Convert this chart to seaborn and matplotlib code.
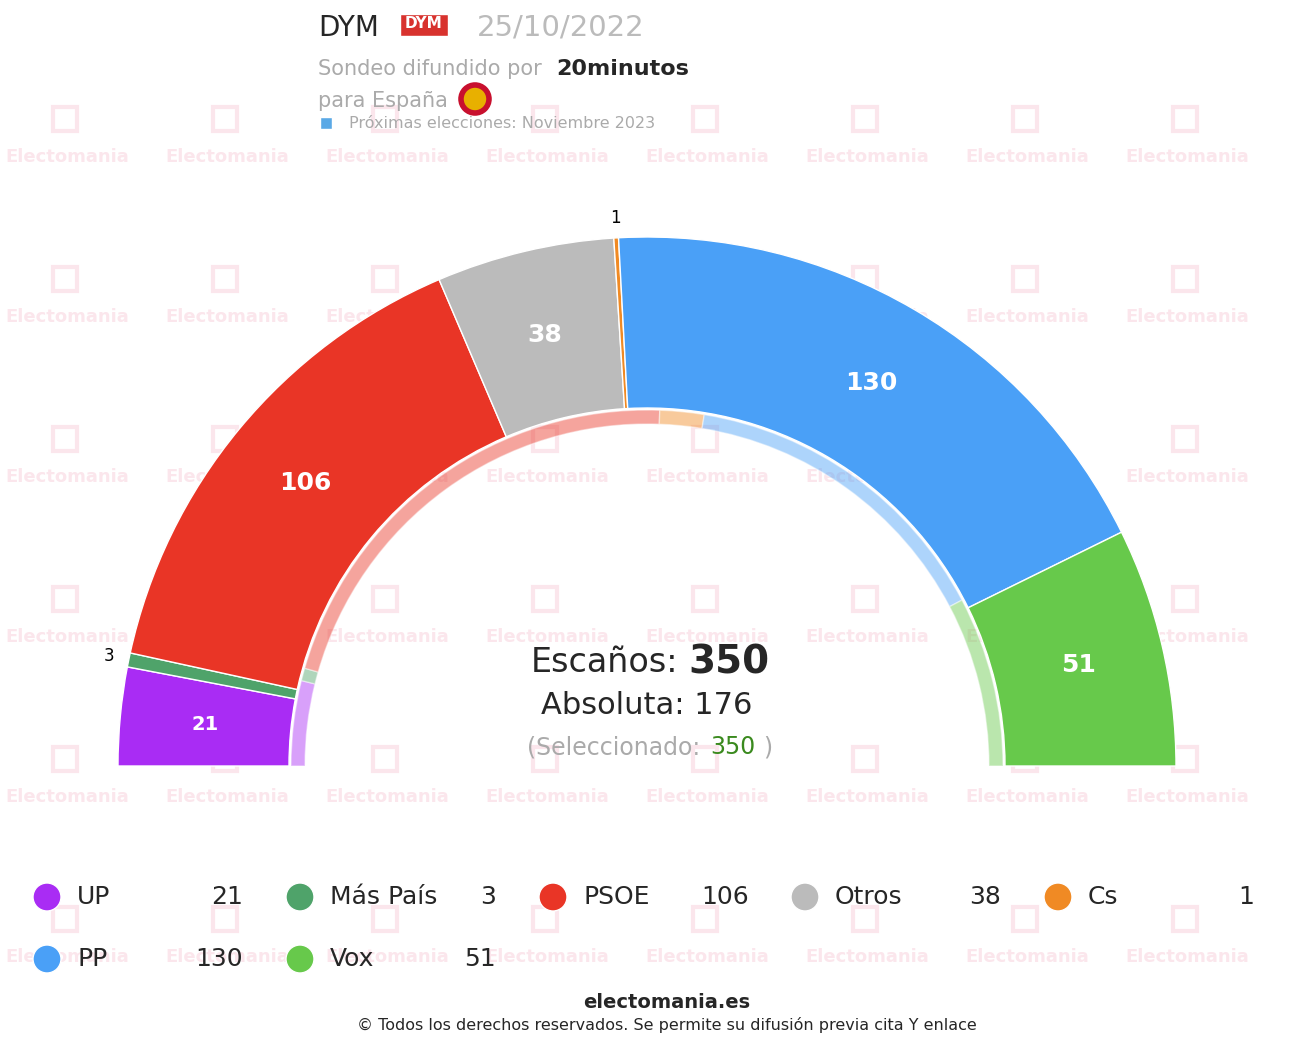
import numpy as np
import matplotlib
matplotlib.use("Agg")
import matplotlib.pyplot as plt
from matplotlib.patches import Wedge, Rectangle, Circle
import seaborn as sns

parties = ["UP", "Más País", "PSOE", "Otros", "Cs", "PP", "Vox"]
seats = [21, 3, 106, 38, 1, 130, 51]
colors = ["#A92CF4", "#4FA36A", "#E93526", "#BBBBBB", "#F08A24", "#4AA0F7", "#67C94B"]
# inner ring (in seat units)
inner_seats = [27, 4, 148, 14, 103, 54]
inner_colors = ["#A92CF4", "#4FA36A", "#E93526", "#F08A24", "#4AA0F7", "#67C94B"]
total = 350
majority = 176

sns.set_style("white")
plt.rcParams['font.family'] = ['DejaVu Sans']

fig = plt.figure(figsize=(13.06, 10.52), dpi=100)
ax = fig.add_axes([0, 0, 1, 1])
ax.set_xlim(0, 1306)
ax.set_ylim(1052, 0)
ax.set_aspect("equal")
ax.axis("off")

# watermark
wm = "#FBE6EC"
for gx in range(67, 1306, 160):
    for gy in range(157, 1000, 160):
        ax.text(gx, gy, "Electomania", color=wm, fontsize=13, fontweight="bold",
                ha="center", va="center", zorder=0)
        ax.add_patch(Rectangle((gx - 14, gy - 50), 24, 24, angle=0, fill=False,
                               ec=wm, lw=3, zorder=0))

cx, cy = 647, 766
r_out, r_in = 529, 358
start = 180.0
for p, s, c in zip(parties, seats, colors):
    span = 180.0 * s / total
    w = Wedge((cx, cy), r_out, -start, -(start - span), width=r_out - r_in,
              fc=c, ec="white", lw=1, zorder=2)
    ax.add_patch(w)
    mid = np.deg2rad(start - span / 2)
    if s >= 10:
        rr = (r_out + r_in) / 2
        ax.text(cx + rr * np.cos(mid), cy - rr * np.sin(mid), str(s), color="white",
                fontsize=18 if s > 25 else 14, fontweight="bold", ha="center", va="center", zorder=3)
    else:
        rr = r_out + 20
        ax.text(cx + rr * np.cos(mid), cy - rr * np.sin(mid), str(s), color="black",
                fontsize=12, ha="center", va="center", zorder=3)
    start -= span

start = 180.0
for s, c in zip(inner_seats, inner_colors):
    span = 180.0 * s / total
    ax.add_patch(Wedge((cx, cy), 356, -start, -(start - span), width=14,
                       fc=c, alpha=0.45, ec="white", lw=1, zorder=2))
    start -= span

ax.text(678, 663, "Escaños:", fontsize=24, ha="right", va="center")
ax.text(688, 663, "350", fontsize=28, fontweight="bold", ha="left", va="center")
ax.text(cx, 706, "Absoluta: 176", fontsize=22, ha="center", va="center")
ax.text(708, 747, "(Seleccionado: ", fontsize=17, color="#AAAAAA", ha="right", va="center")
ax.text(710, 747, "350", fontsize=17, color="#3A8A1E", ha="left", va="center")
ax.text(763, 747, ")", fontsize=17, color="#AAAAAA", ha="left", va="center")

# header
ax.text(318, 28, "DYM", fontsize=20, ha="left", va="center")
ax.add_patch(Rectangle((400, 14), 48, 22, fc="#D8322E", zorder=3))
ax.text(424, 24, "DYM", fontsize=11, fontweight="bold", color="white", ha="center", va="center", zorder=4)
ax.text(477, 28, "25/10/2022", fontsize=21, color="#BBBBBB", ha="left", va="center")
ax.text(318, 69, "Sondeo difundido por", fontsize=15, color="#AAAAAA", ha="left", va="center")
ax.text(556, 69, "20minutos", fontsize=16, fontweight="bold", ha="left", va="center")
ax.text(318, 101, "para España", fontsize=15, color="#AAAAAA", ha="left", va="center")
ax.add_patch(Circle((475, 99), 14, fc="#E8B000", ec="#C8102E", lw=4, zorder=3))
ax.text(349, 123, "Próximas elecciones: Noviembre 2023", fontsize=11.5, color="#AAAAAA",
        ha="left", va="center")
ax.add_patch(Rectangle((320, 117), 12, 12, fc="#5AA9E6", zorder=3))

# legend
col_x = [47, 300, 553, 805, 1058]
for i, (p, s, c) in enumerate(zip(parties, seats, colors)):
    row, col = divmod(i, 5)
    x, y = col_x[col], 897 + row * 62
    ax.add_patch(Circle((x, y), 14, fc=c, ec="white", zorder=3))
    ax.text(x + 30, y, p, fontsize=18, ha="left", va="center", zorder=4,
            bbox=dict(fc="white", ec="none", pad=0, alpha=0))
    ax.text(x + 196, y, str(s), fontsize=18, ha="right", va="center", zorder=4)

ax.text(667, 1003, "electomania.es", fontsize=14, fontweight="bold", ha="center", va="center")
ax.text(667, 1025, "© Todos los derechos reservados. Se permite su difusión previa cita Y enlace",
        fontsize=11.5, ha="center", va="center")

fig.savefig("out.png", dpi=100)
